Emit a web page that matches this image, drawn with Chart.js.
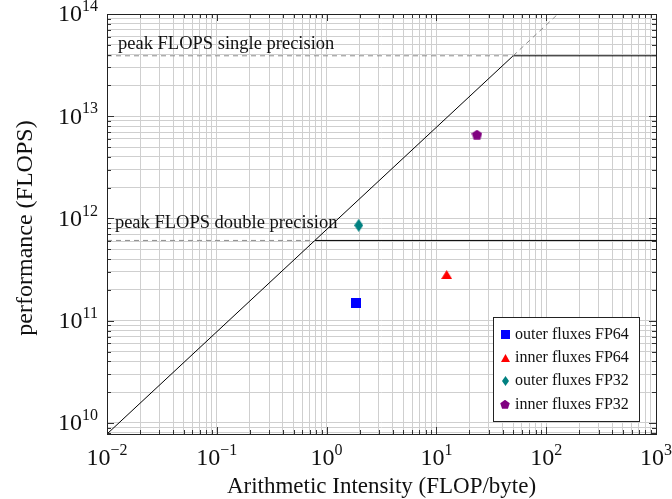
<!DOCTYPE html>
<html>
<head>
<meta charset="utf-8">
<script src="https://cdn.jsdelivr.net/npm/chart.js@4/dist/chart.umd.min.js"></script>
<style>
  html, body { margin: 0; padding: 0; background: #fff; }
  #wrap { width: 672px; height: 499px; position: relative; }
</style>
</head>
<body>
<div id="wrap"><canvas id="roofline"></canvas></div>
<script>
// measured kernels
const seriesNames = ['outer fluxes FP64', 'inner fluxes FP64', 'outer fluxes FP32', 'inner fluxes FP32'];
const seriesColors = ['#0000ff', '#ff0000', '#008080', '#800080'];
const seriesShapes = ['square', 'triangle', 'diamond', 'pentagon'];
const intensity = [1.85, 12.4, 1.96, 23.4];
const performance = [1.5e11, 2.83e11, 8.57e11, 6.58e12];

// roofline (memory bound slope + single precision roof)
const roofX = [0.01, 50, 1000];
const roofY = [7.8e9, 3.9e13, 3.9e13];
const roofExtX = [50, 128];
const roofExtY = [3.9e13, 1e14];
const singleDashX = [0.01, 50];
const singleDashY = [3.9e13, 3.9e13];
const doubleDashX = [0.01, 0.78];
const doubleDashY = [6.1e11, 6.1e11];
const doubleRoofX = [0.78, 1000];
const doubleRoofY = [6.1e11, 6.1e11];

// annotations
const peakLabels = ['peak FLOPS single precision', 'peak FLOPS double precision'];
const peakLabelX = [0.0126, 0.0118];
const peakLabelY = [5.1e13, 9.0e11];

// axes
const xExponents = [-2, -1, 0, 1, 2, 3];
const yExponents = [10, 11, 12, 13, 14];
const xMin = 0.01, xMax = 1000, yMin = 7.8e9, yMax = 1e14;
const xTitle = 'Arithmetic Intensity (FLOP/byte)';
const yTitle = 'performance (FLOPS)';

const SERIF = '"Liberation Serif", "Times New Roman", serif';

function toPoints(xs, ys) {
    return xs.map((x, i) => ({ x: x, y: ys[i] }));
}

function logTicks(lo, hi, min, max) {
    const out = [];
    for (let e = lo; e <= hi; e++) {
        for (let m = 1; m <= 9; m++) {
            const v = m * Math.pow(10, e);
            if (v >= min * 0.999 && v <= max * 1.001) out.push({ value: v, major: m === 1 });
        }
    }
    return out;
}

function makeMarker(shape, color, w, h) {
    const c = document.createElement('canvas');
    c.width = w; c.height = h;
    const g = c.getContext('2d');
    g.fillStyle = color;
    g.beginPath();
    if (shape === 'square') {
        g.rect(0, 0, w, h);
    } else if (shape === 'triangle') {
        g.moveTo(w / 2, 0); g.lineTo(w, h); g.lineTo(0, h);
    } else if (shape === 'diamond') {
        g.moveTo(w / 2, 0); g.lineTo(w, h / 2); g.lineTo(w / 2, h); g.lineTo(0, h / 2);
    } else if (shape === 'pentagon') {
        const cx = w / 2, cy = h * 0.53, r = w / 2;
        for (let k = 0; k < 5; k++) {
            const a = -Math.PI / 2 + k * 2 * Math.PI / 5;
            const px = cx + r * Math.cos(a), py = cy + r * Math.sin(a);
            k ? g.lineTo(px, py) : g.moveTo(px, py);
        }
    }
    g.closePath();
    g.fill();
    return c;
}

const markerSize = { square: [10, 10], triangle: [11, 9], diamond: [9, 13], pentagon: [11, 10] };
const legendSize = { square: [9, 9], triangle: [9, 8], diamond: [7, 10], pentagon: [10, 9] };
const markers = seriesShapes.map((s, i) => makeMarker(s, seriesColors[i], markerSize[s][0], markerSize[s][1]));
const legendMarkers = seriesShapes.map((s, i) => makeMarker(s, seriesColors[i], legendSize[s][0], legendSize[s][1]));

function lineSet(xs, ys, color, dashed) {
    return {
        type: 'line',
        data: toPoints(xs, ys),
        borderColor: color,
        borderWidth: 1,
        borderDash: dashed ? [5, 4] : [],
        pointRadius: 0,
        fill: false,
        tension: 0,
        showLine: true
    };
}

function drawPow(ctx, exp, x, y, align) {
    ctx.textBaseline = 'middle';
    ctx.font = '24px ' + SERIF;
    const baseW = ctx.measureText('10').width;
    ctx.font = '16px ' + SERIF;
    const expStr = String(exp).replace('-', '\u2212');
    const expW = ctx.measureText(expStr).width;
    const total = baseW + expW;
    let left = x;
    if (align === 'center') left = x - total / 2;
    else if (align === 'right') left = x - total;
    ctx.textAlign = 'left';
    ctx.font = '24px ' + SERIF;
    ctx.fillText('10', left, y);
    ctx.font = '16px ' + SERIF;
    ctx.fillText(expStr, left + baseW, y - 8);
}

const framePlugin = {
    id: 'frame',
    afterDatasetsDraw(chart) {
        const ctx = chart.ctx;
        const a = chart.chartArea;
        const xs = chart.scales.x, ys = chart.scales.y;
        ctx.save();
        // inward tick marks on all four sides
        ctx.strokeStyle = '#333';
        ctx.lineWidth = 1;
        ctx.beginPath();
        xs.ticks.forEach(t => {
            const px = Math.round(xs.getPixelForValue(t.value)) + 0.5;
            const len = t.major ? 7 : 4;
            ctx.moveTo(px, a.bottom); ctx.lineTo(px, a.bottom - len);
            ctx.moveTo(px, a.top); ctx.lineTo(px, a.top + len);
        });
        ys.ticks.forEach(t => {
            const py = Math.round(ys.getPixelForValue(t.value)) + 0.5;
            const len = t.major ? 7 : 4;
            ctx.moveTo(a.left, py); ctx.lineTo(a.left + len, py);
            ctx.moveTo(a.right, py); ctx.lineTo(a.right - len, py);
        });
        ctx.stroke();
        // frame
        ctx.strokeStyle = '#222';
        ctx.strokeRect(Math.round(a.left) + 0.5, Math.round(a.top) + 0.5,
            Math.round(a.right - a.left), Math.round(a.bottom - a.top));

        // peak labels
        ctx.fillStyle = '#111';
        ctx.font = '18.5px ' + SERIF;
        ctx.textAlign = 'left';
        ctx.textBaseline = 'middle';
        peakLabels.forEach((txt, i) => {
            ctx.fillText(txt, xs.getPixelForValue(peakLabelX[i]), ys.getPixelForValue(peakLabelY[i]));
        });

        // tick labels with superscript exponents
        xExponents.forEach(e => {
            drawPow(ctx, e, xs.getPixelForValue(Math.pow(10, e)), a.bottom + 25, 'center');
        });
        yExponents.forEach(e => {
            drawPow(ctx, e, a.left - 9, ys.getPixelForValue(Math.pow(10, e)) + 1, 'right');
        });

        // axis titles
        ctx.textAlign = 'center';
        ctx.textBaseline = 'middle';
        ctx.font = '23px ' + SERIF;
        ctx.fillText(xTitle, (a.left + a.right) / 2, 487);
        ctx.save();
        ctx.font = '24px ' + SERIF;
        ctx.translate(26, (a.top + a.bottom) / 2 + 4);
        ctx.rotate(-Math.PI / 2);
        ctx.fillText(yTitle, 0, 0);
        ctx.restore();

        // legend box
        const lx = 493.5, ly = 317.5, lw = 146, lh = 104;
        ctx.fillStyle = '#fff';
        ctx.fillRect(lx, ly, lw, lh);
        ctx.strokeStyle = '#222';
        ctx.strokeRect(lx, ly, lw, lh);
        ctx.font = '16px ' + SERIF;
        ctx.textAlign = 'left';
        ctx.fillStyle = '#111';
        seriesNames.forEach((name, i) => {
            const cy = ly + 17 + i * 23.3;
            const m = legendMarkers[i];
            ctx.drawImage(m, Math.round(505 - m.width / 2), Math.round(cy - m.height / 2));
            ctx.fillText(name, 515, cy);
        });
        ctx.restore();
    }
};

const datasets = [
    lineSet(singleDashX, singleDashY, '#8c8c8c', true),
    lineSet(doubleDashX, doubleDashY, '#8c8c8c', true),
    lineSet(roofExtX, roofExtY, '#8c8c8c', true),
    lineSet(roofX, roofY, '#000', false),
    lineSet(doubleRoofX, doubleRoofY, '#000', false)
];
seriesNames.forEach((name, i) => {
    datasets.push({
        type: 'scatter',
        label: name,
        data: [{ x: intensity[i], y: performance[i] }],
        pointStyle: markers[i],
        pointRadius: 6,
        showLine: false
    });
});

new Chart(document.getElementById('roofline'), {
    type: 'scatter',
    data: { datasets: datasets },
    options: {
        responsive: true,
        maintainAspectRatio: false,
        animation: false,
        layout: { padding: { left: 107, right: 16, top: 14, bottom: 65 } },
        plugins: {
            legend: { display: false },
            tooltip: { enabled: false }
        },
        scales: {
            x: {
                type: 'logarithmic',
                min: xMin, max: xMax,
                afterBuildTicks: axis => { axis.ticks = logTicks(-2, 3, xMin, xMax); },
                ticks: { display: false },
                grid: { color: '#cfcfcf', lineWidth: 1, drawTicks: false },
                border: { display: false }
            },
            y: {
                type: 'logarithmic',
                min: yMin, max: yMax,
                afterBuildTicks: axis => { axis.ticks = logTicks(9, 14, yMin, yMax); },
                ticks: { display: false },
                grid: { color: '#cfcfcf', lineWidth: 1, drawTicks: false },
                border: { display: false }
            }
        }
    },
    plugins: [framePlugin]
});
</script>
</body>
</html>
